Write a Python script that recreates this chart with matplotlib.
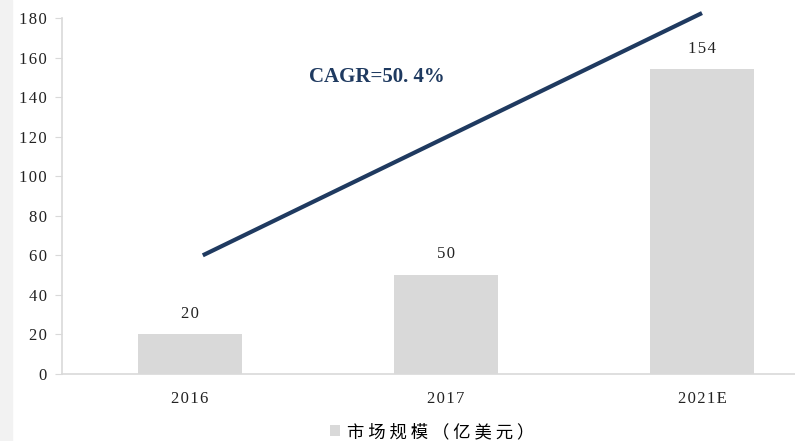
import matplotlib.pyplot as plt
from matplotlib.patches import Rectangle

# 市场规模数据
years = ["2016", "2017", "2021E"]
market_size = [20, 50, 154]
yticks = [0, 20, 40, 60, 80, 100, 120, 140, 160, 180]

# CAGR 示意箭头线
cagr_x = [0.05, 2.0]
cagr_y = [60, 182.5]
cagr_text = "CAGR=50. 4%"
legend_label = "市场规模（亿美元）"

bar_color = "#d9d9d9"
navy = "#1f3a60"
axis_color = "#d9d9d9"
serif = ["Liberation Serif", "DejaVu Serif"]

plt.rcParams["font.family"] = serif


def spaced(s, sep="\u200a"):
    # 字符间加细空格，模拟宽字距
    return sep.join(s)


fig = plt.figure(figsize=(7.95, 4.41), dpi=100)
fig.patches.append(Rectangle((0, 0), 12 / 795, 1, transform=fig.transFigure,
                             color="#f2f2f2", zorder=0))

# 坐标轴右侧超出画布
ax = fig.add_axes([62 / 795, 67 / 441, 768 / 795, 356 / 441])
x = range(len(years))
bars = ax.bar(x, market_size, width=0.41, color=bar_color)

for xi, v in zip(x, market_size):
    ax.text(xi, v + 6.5, spaced(str(v)), ha="center", va="bottom", fontsize=12, color="#222222")

ax.plot(cagr_x, cagr_y, color=navy, lw=3, solid_capstyle="butt", clip_on=False)
ax.text(0.73, 150, cagr_text, ha="center", va="center", fontsize=15,
        fontweight="bold", color=navy)

ax.set_xlim(-0.5, 2.5)
ax.set_ylim(0, 180)
ax.set_yticks(yticks)
ax.set_yticklabels([spaced(str(t)) for t in yticks])
ax.set_xticks(list(x))
ax.set_xticklabels([spaced(y) for y in years])
ax.tick_params(axis="y", length=5, color=axis_color, labelsize=12, pad=6, labelcolor="#222222")
ax.tick_params(axis="x", length=0, labelsize=12, pad=12, labelcolor="#222222")

for side in ["top", "right"]:
    ax.spines[side].set_visible(False)
for side in ["left", "bottom"]:
    ax.spines[side].set_color(axis_color)
    ax.spines[side].set_linewidth(1.2)

fig.legend(handles=[bars], labels=[spaced(legend_label, " ")], loc="center",
           bbox_to_anchor=(432 / 795, 1 - 432 / 441), frameon=False,
           handlelength=0.6, handleheight=0.6, handletextpad=0.4,
           prop={"family": ["Noto Sans CJK SC", "DejaVu Sans"], "size": 12.5})

fig.savefig("out.png", dpi=100)
